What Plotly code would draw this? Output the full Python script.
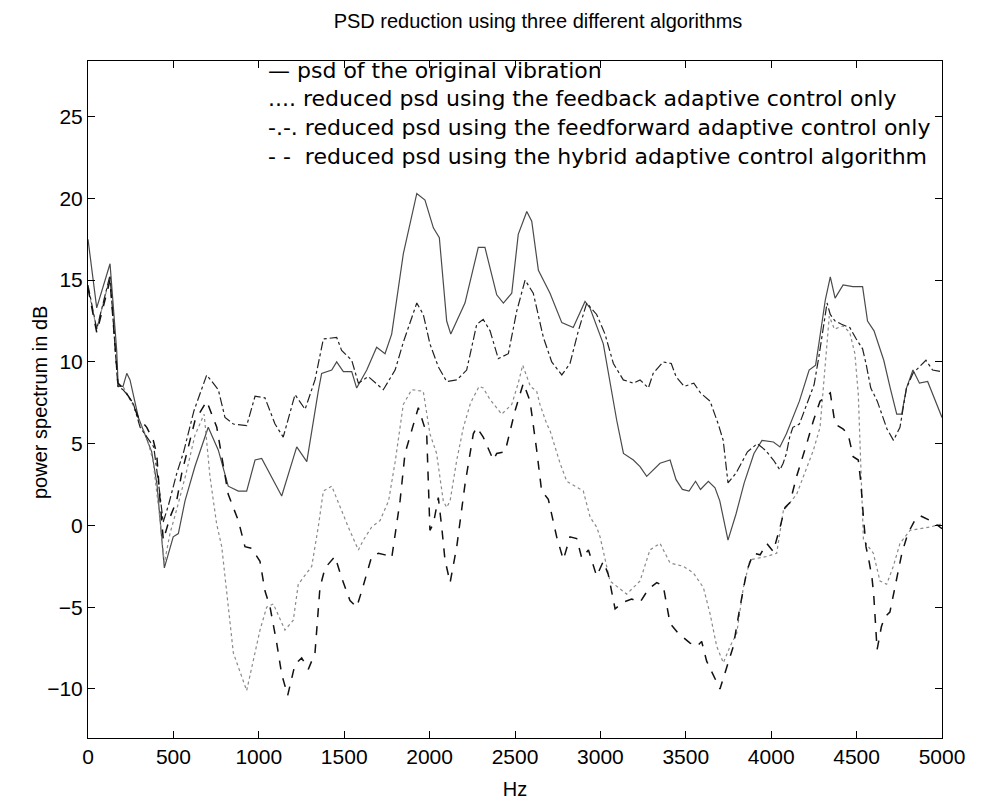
import plotly.graph_objects as go

# ---------------- data ----------------
hz_original = [0, 51, 129, 168, 177, 205, 227, 246, 295, 324, 373, 404, 447, 499, 529, 568, 626, 704, 763,
               821, 880, 929, 978, 1017, 1134, 1222, 1281, 1348, 1368, 1427, 1456, 1495, 1544, 1573, 1632,
               1690, 1739, 1778, 1846, 1925, 1973, 2022, 2057, 2100, 2124, 2207, 2285, 2324, 2393, 2432,
               2481, 2519, 2569, 2598, 2637, 2705, 2774, 2841, 2910, 2939, 3017, 3096, 3135, 3193, 3232,
               3271, 3349, 3408, 3443, 3480, 3519, 3557, 3586, 3632, 3671, 3699, 3747, 3794, 3842, 3899,
               3946, 4013, 4051, 4089, 4127, 4165, 4222, 4260, 4279, 4317, 4346, 4374, 4421, 4478, 4535,
               4564, 4602, 4659, 4697, 4735, 4764, 4792, 4830, 4868, 4916, 4963, 5000]
psd_original = [17.5, 13.3, 16.0, 10.7, 8.5, 8.5, 9.3, 8.9, 6.6, 5.8, 4.5, 2.5, -2.6, -0.7, -0.5, 1.5, 3.6, 6.0, 4.6,
                2.4, 2.1, 2.1, 4.0, 4.1, 1.8, 4.8, 3.9, 8.2, 9.3, 9.5, 10.0, 9.4, 9.4, 8.4, 9.5,
                10.9, 10.5, 11.7, 16.6, 20.3, 19.9, 18.2, 17.6, 12.5, 11.7, 13.6, 17.0, 17.0, 14.1, 13.6,
                14.2, 17.8, 19.2, 18.6, 15.6, 14.2, 12.4, 12.1, 13.7, 13.3, 11.1, 6.4, 4.4, 4.0, 3.6,
                3.0, 3.8, 4.0, 2.8, 2.2, 2.1, 2.7, 2.2, 2.7, 2.3, 1.5, -0.9, 0.7, 2.6, 4.4,
                5.2, 5.1, 4.8, 5.6, 6.6, 7.6, 9.5, 9.8, 11.1, 13.8, 15.2, 13.9, 14.7, 14.6, 14.6,
                12.5, 11.9, 10.1, 8.4, 6.8, 6.8, 8.4, 9.5, 8.7, 8.8, 7.6, 6.6]

hz_feedback = [0, 51, 129, 175, 205, 229, 267, 305, 340, 380, 420, 447, 480, 520, 570, 626, 680, 714, 753,
               783, 821, 851, 929, 978, 1007, 1046, 1085, 1153, 1202, 1231, 1310, 1348, 1378, 1427, 1485,
               1524, 1583, 1612, 1661, 1710, 1760, 1800, 1846, 1895, 1963, 1983, 2002, 2041, 2080, 2100,
               2120, 2159, 2198, 2240, 2290, 2314, 2354, 2422, 2481, 2519, 2545, 2590, 2627, 2646, 2686,
               2705, 2764, 2803, 2900, 2940, 2978, 2998, 3056, 3154, 3232, 3290, 3349, 3408, 3486, 3544,
               3603, 3642, 3681, 3720, 3759, 3798, 3837, 3876, 3974, 4032, 4071, 4149, 4208, 4247, 4286,
               4310, 4340, 4370, 4420, 4460, 4490, 4510, 4525, 4540, 4569, 4598, 4637, 4676, 4715, 4754,
               4813, 4930, 5000]
psd_feedback = [14.5, 12.0, 15.2, 8.6, 8.5, 8.0, 7.3, 6.2, 5.5, 4.0, 0.5, -2.3, -0.5, 1.0, 3.0, 5.5, 6.8, 3.0, 0.1,
                -1.3, -5.0, -7.8, -10.1, -7.8, -6.4, -5.0, -4.8, -6.4, -5.8, -3.6, -2.5, -0.1, 2.1, 2.4, 0.9,
                -0.1, -1.5, -0.9, -0.1, 0.3, 1.5, 4.0, 7.4, 8.3, 8.2, 6.8, 5.6, 4.4, 1.5, 1.1,
                1.5, 4.0, 6.0, 7.5, 8.5, 8.4, 7.7, 6.8, 7.4, 8.7, 9.8, 8.5, 8.2, 7.4, 6.2,
                5.8, 3.8, 2.7, 2.1, 0.5, -0.1, -0.7, -3.4, -4.2, -3.4, -1.5, -1.1, -2.3, -2.5, -2.9,
                -3.8, -5.4, -7.4, -8.4, -7.4, -6.6, -3.8, -2.1, -1.9, -1.7, 0.9, 1.9, 3.6, 4.6, 6.0,
                9.0, 12.8, 12.0, 12.2, 11.8, 10.5, 8.0, 4.0, -0.9, -1.3, -1.7, -3.4, -3.6, -2.5, -1.1,
                -0.3, -0.1, 0.1]

hz_feedforward = [0, 51, 129, 175, 205, 229, 267, 305, 345, 385, 420, 440, 470, 520, 560, 620, 695, 763, 802,
                  851, 929, 978, 1036, 1095, 1143, 1212, 1271, 1329, 1378, 1456, 1485, 1544, 1583, 1641, 1729,
                  1798, 1846, 1925, 1963, 2002, 2051, 2100, 2160, 2217, 2276, 2314, 2354, 2402, 2461, 2510,
                  2559, 2607, 2666, 2715, 2774, 2822, 2871, 2920, 2978, 3027, 3076, 3134, 3193, 3232, 3281,
                  3309, 3367, 3415, 3443, 3490, 3547, 3586, 3642, 3671, 3690, 3719, 3737, 3747, 3794, 3823,
                  3861, 3918, 3966, 4013, 4051, 4070, 4089, 4108, 4127, 4165, 4193, 4222, 4251, 4279, 4307,
                  4327, 4346, 4374, 4412, 4460, 4498, 4535, 4555, 4583, 4621, 4650, 4678, 4716, 4754, 4792,
                  4830, 4868, 4906, 4945, 5000]
psd_feedforward = [14.7, 12.0, 15.3, 8.5, 8.3, 8.0, 7.4, 6.0, 5.4, 4.8, 2.0, 0.2, 1.2, 3.2, 4.5, 7.0, 9.2, 8.3, 6.6,
                   6.2, 6.1, 7.9, 7.8, 6.2, 5.4, 8.0, 7.1, 8.9, 11.4, 11.5, 10.7, 10.1, 8.7, 9.1, 8.3,
                   9.5, 11.2, 13.6, 12.9, 11.1, 9.7, 8.8, 8.9, 9.5, 12.3, 12.6, 11.9, 10.2, 10.5, 13.1,
                   15.0, 14.2, 11.5, 10.0, 9.2, 9.9, 11.9, 13.6, 12.9, 11.7, 9.9, 8.9, 8.7, 8.9, 8.4,
                   9.3, 10.0, 9.9, 9.1, 8.5, 8.7, 8.1, 7.6, 6.8, 6.2, 5.2, 3.6, 2.6, 3.2, 3.8,
                   4.5, 5.0, 4.6, 4.0, 3.4, 3.8, 4.4, 5.4, 6.0, 6.2, 7.0, 7.8, 8.6, 10.3, 12.1,
                   13.6, 12.9, 12.5, 12.3, 12.1, 11.4, 10.8, 9.9, 8.4, 7.6, 6.7, 5.9, 5.2, 6.0, 8.4,
                   9.3, 9.7, 10.1, 9.5, 9.4]

hz_hybrid = [0, 51, 129, 175, 205, 256, 295, 344, 382, 402, 422, 441, 480, 519, 549, 568, 626, 695, 754,
             821, 880, 919, 958, 1007, 1036, 1066, 1105, 1134, 1169, 1212, 1251, 1290, 1329, 1358, 1388,
             1446, 1485, 1534, 1573, 1603, 1661, 1700, 1739, 1778, 1827, 1856, 1934, 1983, 2002, 2022,
             2051, 2071, 2090, 2120, 2159, 2207, 2256, 2276, 2314, 2373, 2393, 2442, 2500, 2549, 2588,
             2627, 2656, 2695, 2744, 2783, 2822, 2861, 2891, 2930, 2978, 3017, 3046, 3086, 3134, 3183,
             3232, 3281, 3330, 3368, 3408, 3456, 3525, 3564, 3593, 3622, 3661, 3700, 3739, 3778, 3817,
             3857, 3895, 3935, 3974, 4012, 4052, 4081, 4110, 4149, 4208, 4247, 4286, 4346, 4374, 4420,
             4450, 4480, 4510, 4525, 4540, 4555, 4575, 4590, 4600, 4610, 4620, 4645, 4665, 4695, 4725,
             4765, 4800, 4840, 4870, 4910, 4950, 5000]
psd_hybrid = [14.5, 11.8, 15.0, 8.7, 8.4, 7.6, 6.6, 6.0, 5.2, 4.4, 1.5, -0.9, 0.5, 1.5, 3.2, 4.0, 6.4, 7.6, 6.0,
              1.9, 0.3, -1.3, -1.4, -2.2, -4.0, -5.0, -7.2, -9.1, -10.4, -8.5, -8.1, -8.8, -7.8, -3.8, -2.6,
              -1.9, -3.2, -4.6, -5.0, -4.0, -1.9, -1.7, -1.8, -2.0, 1.5, 4.4, 7.2, 5.6, -0.3, 0.1,
              1.7, -0.1, -2.1, -3.5, -1.3, 2.5, 5.6, 6.0, 5.4, 4.0, 4.4, 4.5, 7.0, 8.7, 7.6,
              4.6, 2.1, 1.6, -0.7, -2.1, -0.7, -0.8, -2.0, -1.5, -3.1, -2.2, -3.0, -5.1, -4.7, -4.5,
              -4.7, -3.9, -3.5, -3.7, -6.0, -6.6, -7.2, -7.4, -7.1, -8.3, -9.1, -10.0, -8.7, -7.4, -5.0,
              -2.8, -1.7, -1.8, -1.1, -1.6, -0.1, 1.1, 1.4, 3.0, 5.0, 6.4, 7.6, 8.1, 6.2, 5.9,
              5.6, 4.2, 4.0, 2.6, 0.5, -1.3, -2.3, -3.2, -4.2, -5.8, -7.6, -6.2, -5.6, -5.3, -3.8,
              -1.7, -0.5, 0.3, 0.6, 0.4, 0.2, -0.2]

legend_lines = ["\u2014 psd of the original vibration",
                ".... reduced psd using the feedback adaptive control only",
                "-.-. reduced psd using the feedforward adaptive control only",
                "- -  reduced psd using the hybrid adaptive control algorithm"]

x_ticks = [0, 500, 1000, 1500, 2000, 2500, 3000, 3500, 4000, 4500, 5000]
y_ticks = [-10, -5, 0, 5, 10, 15, 20, 25]

FONT = "Liberation Sans, Arial, sans-serif"
LEGEND_FONT = "DejaVu Sans, sans-serif"

fig = go.Figure()
fig.add_trace(go.Scatter(x=hz_original, y=psd_original, mode="lines",
                         line=dict(color="#4a4a4a", width=1.2, dash="solid"), showlegend=False))
fig.add_trace(go.Scatter(x=hz_feedback, y=psd_feedback, mode="lines",
                         line=dict(color="#8a8a8a", width=1.2, dash="dot"), showlegend=False))
fig.add_trace(go.Scatter(x=hz_feedforward, y=psd_feedforward, mode="lines",
                         line=dict(color="#222222", width=1.2, dash="dashdot"), showlegend=False))
fig.add_trace(go.Scatter(x=hz_hybrid, y=psd_hybrid, mode="lines",
                         line=dict(color="#111111", width=1.5, dash="dash"), showlegend=False))

for i, t in enumerate(legend_lines):
    fig.add_annotation(text=t, xref="paper", yref="paper", x=(266 - 88) / 854,
                       y=1 - (9 + i * 28.7) / 677, xanchor="left", yanchor="middle",
                       showarrow=False, font=dict(family=LEGEND_FONT, size=22, color="black"))

# y-axis title placed like the reference (close to the axis)
fig.add_annotation(text="power spectrum in dB", xref="paper", yref="paper",
                   x=(40 - 88) / 854, y=1 - (403 - 61) / 677, xanchor="center", yanchor="middle",
                   textangle=-90, showarrow=False, font=dict(family=FONT, size=20, color="black"))

fig.update_layout(
    width=992, height=809,
    margin=dict(l=88, r=50, t=61, b=71),
    paper_bgcolor="white", plot_bgcolor="white",
    font=dict(family=FONT, size=20, color="black"),
    title=dict(text="PSD reduction using three different algorithms", x=538 / 992, xanchor="center",
               y=1 - 21 / 809, yanchor="middle", yref="container", font=dict(size=20)),
)
fig.update_xaxes(range=[0, 5000], tickvals=x_ticks, ticks="inside", ticklen=7, tickcolor="black",
                 showline=True, linecolor="black", linewidth=1, mirror="ticks", showgrid=False,
                 zeroline=False, title=dict(text="Hz", standoff=14, font=dict(size=20)),
                 tickfont=dict(size=21))
fig.update_yaxes(range=[-13, 28.4], tickvals=y_ticks, ticks="inside", ticklen=7, tickcolor="black",
                 showline=True, linecolor="black", linewidth=1, mirror="ticks", showgrid=False,
                 zeroline=False, tickfont=dict(size=21))

fig.write_html("out.html")
